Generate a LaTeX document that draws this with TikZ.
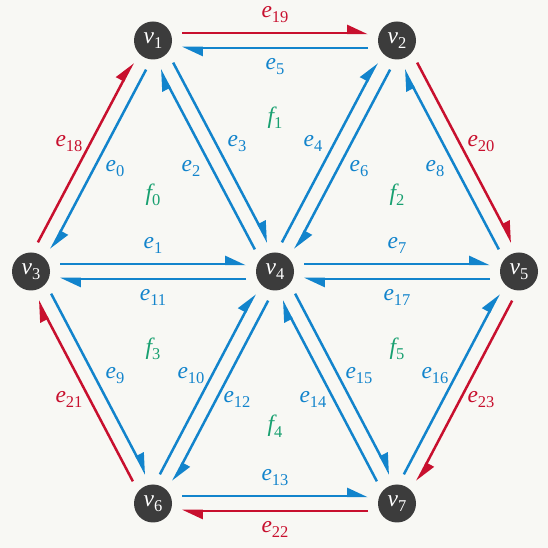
\documentclass[tikz,border=0pt]{standalone}
\usepackage{fontspec}
\setmainfont{Liberation Serif}
\usetikzlibrary{arrows.meta,calc}
\definecolor{bg}{RGB}{248,248,244}
\definecolor{ered}{RGB}{200,16,46}
\definecolor{eblue}{RGB}{18,132,204}
\definecolor{fgreen}{RGB}{24,160,112}
\definecolor{vfill}{RGB}{60,60,60}
\newcommand\symsub[2]{{\itshape #1}\raisebox{-0.22em}{\fontsize{16.5}{17}\selectfont\upshape #2}}
\newcommand\dedge[4]{% #1 from, #2 to, #3 colour, #4 index
  \path ($(#1)!29pt!(#2)$) coordinate (s#4) ($(#2)!29pt!(#1)$) coordinate (t#4)
        ($(#1)!0.5!(#2)$) coordinate (m#4);
  \draw[harp, #3] ($(s#4)!7.5pt!90:(t#4)$) -- ($(t#4)!7.5pt!-90:(s#4)$);
  \node[elab, text=#3] (e#4) at ($(m#4)!26pt!90:(#2)$) {\symsub{e}{#4}};
}
\begin{document}
\begin{tikzpicture}[x=1pt,y=1pt,
  vert/.style={circle, fill=vfill, minimum size=38pt, inner sep=0pt, text=white,
    font=\fontsize{23.5}{27}\selectfont},
  harp/.style={line width=2.5pt, -{Triangle[harpoon, length=18pt, width=16pt]}},
  elab/.style={font=\fontsize{23.5}{27}\selectfont, inner sep=0pt},
  flab/.style={font=\fontsize{23.5}{27}\selectfont, inner sep=0pt, text=fgreen}]
\fill[bg] (0,0) rectangle (548,548);
\useasboundingbox (0,0) rectangle (548,548);
\node[vert] (v1) at (153,507.5) {\symsub{v}{1}};
\node[vert] (v2) at (397,507.5) {\symsub{v}{2}};
\node[vert] (v3) at (31,276.5) {\symsub{v}{3}};
\node[vert] (v4) at (275,276.5) {\symsub{v}{4}};
\node[vert] (v5) at (519,276.5) {\symsub{v}{5}};
\node[vert] (v6) at (153,44.5) {\symsub{v}{6}};
\node[vert] (v7) at (397,44.5) {\symsub{v}{7}};
\dedge{v1}{v3}{eblue}{0}
\dedge{v3}{v1}{ered}{18}
\dedge{v3}{v4}{eblue}{1}
\dedge{v4}{v3}{eblue}{11}
\dedge{v4}{v1}{eblue}{2}
\dedge{v1}{v4}{eblue}{3}
\dedge{v1}{v2}{ered}{19}
\dedge{v2}{v1}{eblue}{5}
\dedge{v4}{v2}{eblue}{4}
\dedge{v2}{v4}{eblue}{6}
\dedge{v2}{v5}{ered}{20}
\dedge{v5}{v2}{eblue}{8}
\dedge{v4}{v5}{eblue}{7}
\dedge{v5}{v4}{eblue}{17}
\dedge{v3}{v6}{eblue}{9}
\dedge{v6}{v3}{ered}{21}
\dedge{v6}{v4}{eblue}{10}
\dedge{v4}{v6}{eblue}{12}
\dedge{v7}{v4}{eblue}{14}
\dedge{v4}{v7}{eblue}{15}
\dedge{v7}{v5}{eblue}{16}
\dedge{v5}{v7}{ered}{23}
\dedge{v6}{v7}{eblue}{13}
\dedge{v7}{v6}{ered}{22}
\node[flab] (f0) at (barycentric cs:v1=1,v3=1,v4=1) {\symsub{f}{0}};
\node[flab] (f1) at (barycentric cs:v1=1,v2=1,v4=1) {\symsub{f}{1}};
\node[flab] (f2) at (barycentric cs:v2=1,v4=1,v5=1) {\symsub{f}{2}};
\node[flab] (f3) at (barycentric cs:v3=1,v4=1,v6=1) {\symsub{f}{3}};
\node[flab] (f4) at (barycentric cs:v4=1,v6=1,v7=1) {\symsub{f}{4}};
\node[flab] (f5) at (barycentric cs:v4=1,v5=1,v7=1) {\symsub{f}{5}};
\end{tikzpicture}
\end{document}
